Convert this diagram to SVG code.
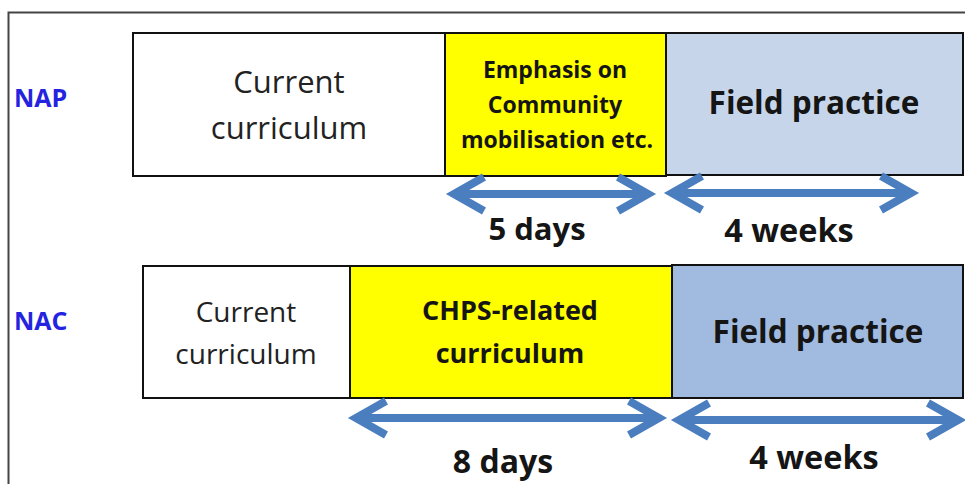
<svg xmlns="http://www.w3.org/2000/svg" width="965" height="484" viewBox="0 0 965 484">
  <style>
    .box { stroke: #111; stroke-width: 2; }
    .plain { fill: #ffffff; }
    .hi { fill: #ffff00; }
    .field1 { fill: #c6d5ea; }
    .field2 { fill: #a1badf; }
    .reg { font-family: "Open Sans", "Liberation Sans", sans-serif; fill: #222; text-anchor: middle; }
    .bold { font-family: "Open Sans", "Liberation Sans", sans-serif; font-weight: bold; fill: #151515; text-anchor: middle; }
    .tag { font-family: "Open Sans", "Liberation Sans", sans-serif; font-weight: bold; fill: #2424e0; font-size: 25px; }
    .arrow { fill: none; stroke: #4a7ebf; stroke-width: 8; stroke-linejoin: miter; stroke-linecap: butt; }
  </style>

  <rect width="965" height="484" fill="#ffffff"/>
  <!-- outer frame -->
  <path d="M8.5 484 V12.5 H965" fill="none" stroke="#444" stroke-width="2"/>

  <!-- row labels -->
  <text class="tag" x="14" y="107">NAP</text>
  <text class="tag" x="14" y="330">NAC</text>

  <!-- NAP row -->
  <g id="nap-current">
    <rect class="box plain" x="133" y="33" width="312" height="143"/>
    <text class="reg" font-size="31" x="289" y="93">Current</text>
    <text class="reg" font-size="31" x="289" y="139">curriculum</text>
  </g>
  <g id="nap-emphasis">
    <rect class="box hi" x="445" y="33" width="221" height="143"/>
    <text class="bold" font-size="23" x="555" y="78">Emphasis on</text>
    <text class="bold" font-size="23" x="555" y="113">Community</text>
    <text class="bold" font-size="23" x="557" y="148">mobilisation etc.</text>
  </g>
  <g id="nap-field">
    <rect class="box field1" x="666" y="33" width="297" height="142"/>
    <text class="bold" font-size="31.5" x="814" y="114">Field practice</text>
  </g>

  <!-- NAC row -->
  <g id="nac-current">
    <rect class="box plain" x="143" y="266" width="207" height="132"/>
    <text class="reg" font-size="28" x="246" y="322">Current</text>
    <text class="reg" font-size="28" x="246" y="364">curriculum</text>
  </g>
  <g id="nac-chps">
    <rect class="box hi" x="350" y="266" width="322" height="132"/>
    <text class="bold" font-size="27" x="510" y="320">CHPS-related</text>
    <text class="bold" font-size="27" x="510" y="363">curriculum</text>
  </g>
  <g id="nac-field">
    <rect class="box field2" x="672" y="265" width="291" height="133"/>
    <text class="bold" font-size="31.5" x="818" y="343">Field practice</text>
  </g>

  <!-- duration spans -->
  <g id="connectors">
    <path class="arrow" d="M484 177 L454 194 L484 211 M454 194 H648 M618 177 L648 194 L618 211"/>
    <path class="arrow" d="M702 176 L672 193 L702 210 M672 193 H911 M881 176 L911 193 L881 210"/>
    <path class="arrow" d="M386 401 L356 418 L386 435 M356 418 H659 M629 401 L659 418 L629 435"/>
    <path class="arrow" d="M709 403 L679 420 L709 437 M679 420 H958 M928 403 L958 420 L928 437"/>
  </g>

  <!-- durations -->
  <text class="bold" font-size="31" x="537" y="240">5 days</text>
  <text class="bold" font-size="32.5" x="789" y="242">4 weeks</text>
  <text class="bold" font-size="32" x="503" y="473">8 days</text>
  <text class="bold" font-size="32.5" x="814" y="469">4 weeks</text>
</svg>
